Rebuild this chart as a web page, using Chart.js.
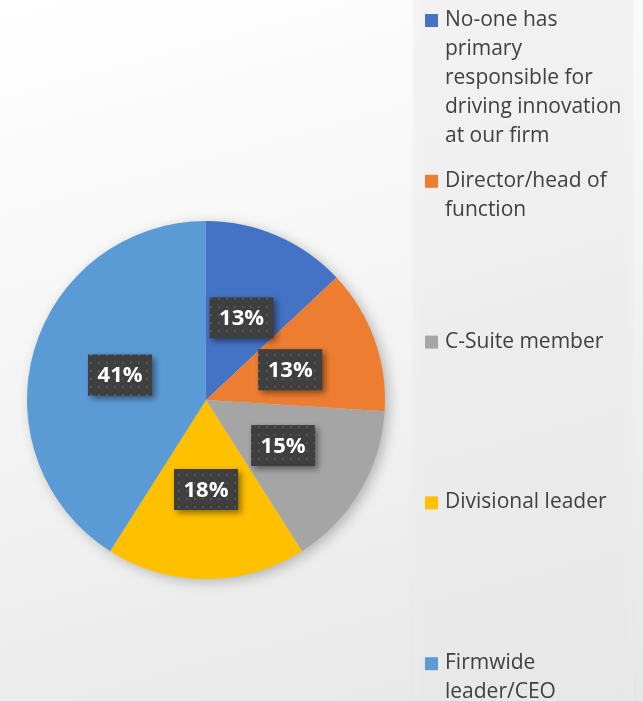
<!DOCTYPE html>
<html>
<head>
<meta charset="utf-8">
<title>Innovation responsibility</title>
<script src="https://cdn.jsdelivr.net/npm/chart.js@4.4.1/dist/chart.umd.min.js"></script>
<style>
  html, body { margin: 0; padding: 0; }
  body {
    width: 643px; height: 701px; overflow: hidden;
    background: linear-gradient(165deg, #ffffff 0%, #f6f6f6 40%, #e7e7e7 100%);
  }
  canvas { display: block; }
</style>
</head>
<body>
<canvas id="pieChart" width="643" height="701"></canvas>
<script>
// Chart data
const categories = [
  ["No-one has", "primary", "responsible for", "driving innovation", "at our firm"],
  ["Director/head of", "function"],
  ["C-Suite member"],
  ["Divisional leader"],
  ["Firmwide", "leader/CEO"]
];
const shares = [13, 13, 15, 18, 41];
const sliceColors = ["#4472C4", "#ED7D31", "#A5A5A5", "#FFC000", "#5B9BD5"];

const FONT = "'Open Sans', 'DejaVu Sans', sans-serif";

// small dotted pattern for the data label boxes
function makeDotPattern(ctx) {
  const c = document.createElement("canvas");
  c.width = 8; c.height = 8;
  const p = c.getContext("2d");
  p.fillStyle = "#3f3f3f";
  p.fillRect(0, 0, 8, 8);
  p.fillStyle = "#535353";
  p.fillRect(2, 2, 2, 2);
  return ctx.createPattern(c, "repeat");
}

// soft shadow under the whole pie
const pieShadow = {
  id: "pieShadow",
  beforeDatasetsDraw(chart) {
    const arc = chart.getDatasetMeta(0).data[0];
    if (!arc) return;
    const ctx = chart.ctx;
    ctx.save();
    ctx.shadowColor = "rgba(0,0,0,0.28)";
    ctx.shadowBlur = 14;
    ctx.shadowOffsetX = 4;
    ctx.shadowOffsetY = 3;
    ctx.fillStyle = "#cccccc";
    ctx.beginPath();
    ctx.arc(arc.x, arc.y, arc.outerRadius - 1, 0, Math.PI * 2);
    ctx.fill();
    ctx.restore();
  }
};

// percentage labels in dark boxes
const sliceLabels = {
  id: "sliceLabels",
  afterDatasetsDraw(chart) {
    const ctx = chart.ctx;
    const pattern = makeDotPattern(ctx);
    const data = chart.data.datasets[0].data;
    chart.getDatasetMeta(0).data.forEach((arc, i) => {
      const pos = arc.tooltipPosition();
      const w = 64, h = 41;
      const x = pos.x - w / 2, y = pos.y - h / 2;
      ctx.save();
      ctx.shadowColor = "rgba(0,0,0,0.45)";
      ctx.shadowBlur = 6;
      ctx.shadowOffsetX = 3;
      ctx.shadowOffsetY = 3;
      ctx.fillStyle = pattern;
      ctx.fillRect(x, y, w, h);
      ctx.restore();
      ctx.save();
      ctx.fillStyle = "#ffffff";
      ctx.font = "bold 22px " + FONT;
      ctx.textAlign = "center";
      ctx.textBaseline = "middle";
      ctx.fillText(data[i] + "%", pos.x, pos.y + 1);
      ctx.restore();
    });
  }
};

// legend on the right, spread over the full height
const sideLegend = {
  id: "sideLegend",
  beforeDraw(chart) {
    const ctx = chart.ctx;
    ctx.save();
    ctx.shadowColor = "rgba(0,0,0,0.05)";
    ctx.shadowBlur = 6;
    ctx.fillStyle = "rgba(238,238,238,0.45)";
    ctx.fillRect(413, -10, 220, 730);
    ctx.restore();
  },
  afterDraw(chart) {
    const ctx = chart.ctx;
    const colors = chart.data.datasets[0].backgroundColor;
    ctx.save();
    ctx.font = "21px " + FONT;
    ctx.textBaseline = "middle";
    chart.data.labels.forEach((lines, i) => {
      const top = 20 + i * 160.8;
      ctx.fillStyle = colors[i];
      ctx.fillRect(425, top - 6, 13, 13);
      ctx.fillStyle = "#404040";
      lines.forEach((line, j) => {
        ctx.fillText(line, 445, top + j * 29);
      });
    });
    ctx.restore();
  }
};

new Chart(document.getElementById("pieChart").getContext("2d"), {
  type: "pie",
  data: {
    labels: categories,
    datasets: [{
      data: shares,
      backgroundColor: sliceColors,
      borderWidth: 0
    }]
  },
  options: {
    responsive: false,
    animation: false,
    layout: { padding: { left: 27, right: 258, top: 221, bottom: 122 } },
    plugins: {
      legend: { display: false },
      tooltip: { enabled: false }
    }
  },
  plugins: [sideLegend, pieShadow, sliceLabels]
});
</script>
</body>
</html>
